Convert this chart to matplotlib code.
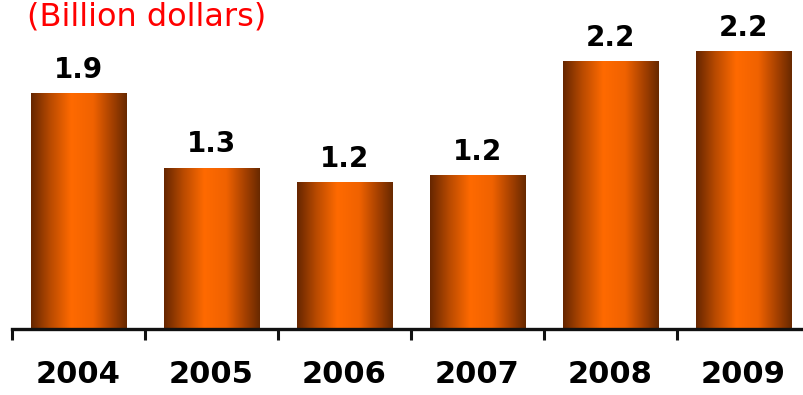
import matplotlib

matplotlib.use("Agg")

import matplotlib.pyplot as plt
import numpy as np
from matplotlib.colors import LinearSegmentedColormap

years = ["2004", "2005", "2006", "2007", "2008", "2009"]
values = [1.9, 1.3, 1.18, 1.24, 2.16, 2.24]
unit_label = "(Billion dollars)"

plt.rcParams["font.family"] = ["DejaVu Sans"]

fig = plt.figure(figsize=(8.04, 3.95), dpi=100)
ax = fig.add_axes([12 / 804, 66 / 395, 798 / 804, 322 / 395])

x = np.arange(len(years))
bars = ax.bar(x, values, width=0.72, color="none", edgecolor="none", zorder=2)

# copper-style horizontal shading inside each bar
shade = LinearSegmentedColormap.from_list(
    "copper_bar",
    [(0.0, "#662600"), (0.2, "#b84a00"), (0.42, "#ff6a00"), (0.65, "#f06200"),
     (0.85, "#a44000"), (1.0, "#682900")],
)
grad = np.linspace(0, 1, 256).reshape(1, -1)
for b in bars:
    x0, w, h = b.get_x(), b.get_width(), b.get_height()
    ax.imshow(grad, cmap=shade, aspect="auto", extent=[x0, x0 + w, 0, h],
              zorder=2, interpolation="bicubic")

for b, v in zip(bars, values):
    ax.annotate(f"{v:.1f}", (b.get_x() + b.get_width() / 2, b.get_height()),
                xytext=(0, 7), textcoords="offset points", ha="center", va="bottom",
                fontsize=20, fontweight="bold", color="black")

ax.set_xlim(-0.5, len(years) - 0.5)
ax.set_ylim(0, 2.6)

for side in ("top", "right", "left"):
    ax.spines[side].set_visible(False)
ax.spines["bottom"].set_linewidth(2.4)
ax.spines["bottom"].set_color("#111111")

ax.set_yticks([])
ax.set_xticks(x)
ax.set_xticklabels(years, fontsize=22, fontweight="bold")
ax.tick_params(axis="x", which="major", length=0, pad=22)
ax.set_xticks(np.arange(-0.5, len(years)), minor=True)
ax.tick_params(axis="x", which="minor", length=8, width=2.2, color="#111111", direction="out")

fig.text(27 / 804, 1 - 25 / 395, unit_label, color="#ff0000", fontsize=23,
         ha="left", va="baseline")

fig.savefig("out.png", dpi=100)
